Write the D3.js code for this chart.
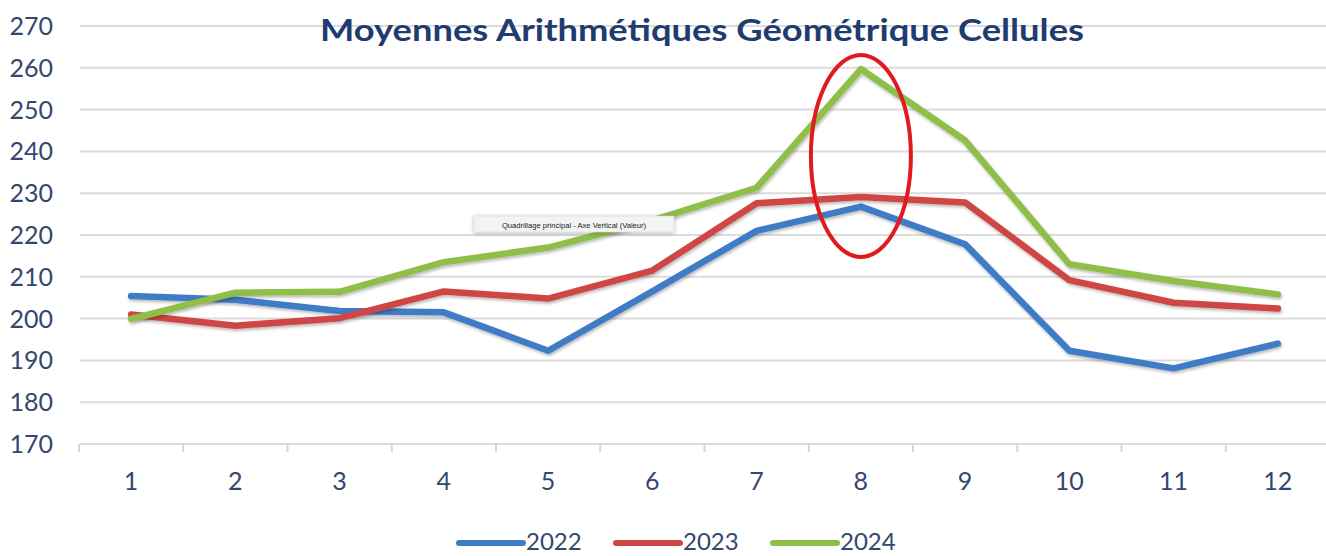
<!DOCTYPE html>
<html>
<head>
<meta charset="utf-8">
<script src="https://cdn.jsdelivr.net/npm/d3@7"></script>
<style>
  html, body { margin: 0; padding: 0; background: #ffffff; }
  svg { display: block; }
</style>
</head>
<body>
<svg id="chart" width="1326" height="556"></svg>
<script>
const categories = ["1","2","3","4","5","6","7","8","9","10","11","12"];
const seriesNames = ["2022","2023","2024"];
const values2022 = [205.4, 204.5, 201.8, 201.5, 192.3, 206.5, 221.0, 226.8, 217.8, 192.3, 188.1, 194.0];
const values2023 = [201.0, 198.3, 200.1, 206.5, 204.8, 211.5, 227.6, 229.1, 227.8, 209.2, 203.8, 202.4];
const values2024 = [199.9, 206.2, 206.4, 213.5, 217.0, 223.5, 231.3, 259.7, 242.6, 213.0, 209.0, 205.8];
const yTicks = [170, 180, 190, 200, 210, 220, 230, 240, 250, 260, 270];
const titleText = "Moyennes Arithmétiques Géométrique Cellules";
const tooltipText = "Quadrillage principal - Axe Vertical (Valeur)";
const highlightCategory = "8";

const colors = ["#3f7cc6", "#cf4744", "#8fbe4a"];
const seriesValues = [values2022, values2023, values2024];

const svg = d3.select("#chart");
const FONT = "Lato, 'Open Sans', sans-serif";
const labelColor = "#34476e";

const x = d3.scaleBand().domain(categories).range([79, 1330]).padding(0);
const y = d3.scaleLinear().domain([170, 270]).range([444, 26]);

const defs = svg.append("defs");
const f = defs.append("filter").attr("id", "shadow")
  .attr("x", "-5%").attr("y", "-20%").attr("width", "110%").attr("height", "140%");
f.append("feDropShadow").attr("dx", 1).attr("dy", 2).attr("stdDeviation", 1.6)
  .attr("flood-color", "#000").attr("flood-opacity", 0.28);
const f2 = defs.append("filter").attr("id", "tipshadow")
  .attr("x", "-10%").attr("y", "-50%").attr("width", "120%").attr("height", "200%");
f2.append("feDropShadow").attr("dx", 0).attr("dy", 1).attr("stdDeviation", 2)
  .attr("flood-color", "#000").attr("flood-opacity", 0.3);

// gridlines
svg.append("g").selectAll("line").data(yTicks).join("line")
  .attr("x1", 80).attr("x2", 1326)
  .attr("y1", d => y(d)).attr("y2", d => y(d))
  .attr("stroke", "#dcdcdc").attr("stroke-width", 2);

// y labels
svg.append("g").selectAll("text").data(yTicks).join("text")
  .attr("x", 53).attr("y", d => y(d)).attr("dy", "0.36em")
  .attr("text-anchor", "end")
  .attr("font-family", FONT).attr("font-size", 25)
  .attr("fill", labelColor).text(d => d);

// x axis tick marks at band boundaries
const boundaries = categories.map(c => x(c));
svg.append("g").selectAll("line").data(boundaries).join("line")
  .attr("x1", d => d).attr("x2", d => d)
  .attr("y1", y(170)).attr("y2", y(170) + 8)
  .attr("stroke", "#d6d6d6").attr("stroke-width", 2);

// x labels
svg.append("g").selectAll("text").data(categories).join("text")
  .attr("x", d => x(d) + x.bandwidth() / 2).attr("y", 490)
  .attr("text-anchor", "middle")
  .attr("font-family", FONT).attr("font-size", 25)
  .attr("fill", labelColor).text(d => d);

// lines
const line = d3.line()
  .x((d, i) => x(categories[i]) + x.bandwidth() / 2)
  .y(d => y(d));
svg.append("g").selectAll("path").data(seriesValues).join("path")
  .attr("d", d => line(d))
  .attr("fill", "none")
  .attr("stroke", (d, i) => colors[i])
  .attr("stroke-width", 6.5)
  .attr("stroke-linejoin", "round")
  .attr("stroke-linecap", "round")
  .attr("filter", "url(#shadow)");

// tooltip box
const tip = svg.append("g");
tip.append("rect").attr("x", 474).attr("y", 216).attr("width", 200).attr("height", 16)
  .attr("fill", "#f3f3f3").attr("stroke", "#d0d0d0").attr("stroke-width", 0.5)
  .attr("filter", "url(#tipshadow)");
tip.append("text").attr("x", 574).attr("y", 227.5).attr("text-anchor", "middle")
  .attr("font-family", "'Liberation Sans', Arial, sans-serif").attr("font-size", 7.6)
  .attr("fill", "#222").text(tooltipText);

// title
const title = svg.append("text")
  .attr("x", 702).attr("y", 41).attr("text-anchor", "middle")
  .attr("font-family", FONT).attr("font-weight", 700).attr("font-size", 31)
  .attr("fill", "#1f3c70").text(titleText);
title.attr("textLength", 764).attr("lengthAdjust", "spacingAndGlyphs");

// highlight ellipse
const ex = x(highlightCategory) + x.bandwidth() / 2;
svg.append("ellipse")
  .attr("cx", ex).attr("cy", 156).attr("rx", 50).attr("ry", 101)
  .attr("fill", "none").attr("stroke", "#e01a1e").attr("stroke-width", 4);

// legend
const legend = svg.append("g");
const legendX = [457, 614, 771];
seriesNames.forEach((name, i) => {
  const g = legend.append("g").attr("transform", `translate(${legendX[i]},0)`);
  g.append("line").attr("x1", 2).attr("x2", 66).attr("y1", 543).attr("y2", 543)
    .attr("stroke", colors[i]).attr("stroke-width", 6).attr("stroke-linecap", "round");
  g.append("text").attr("x", 69).attr("y", 550)
    .attr("font-family", FONT).attr("font-size", 24)
    .attr("fill", labelColor).text(name);
});
</script>
</body>
</html>
